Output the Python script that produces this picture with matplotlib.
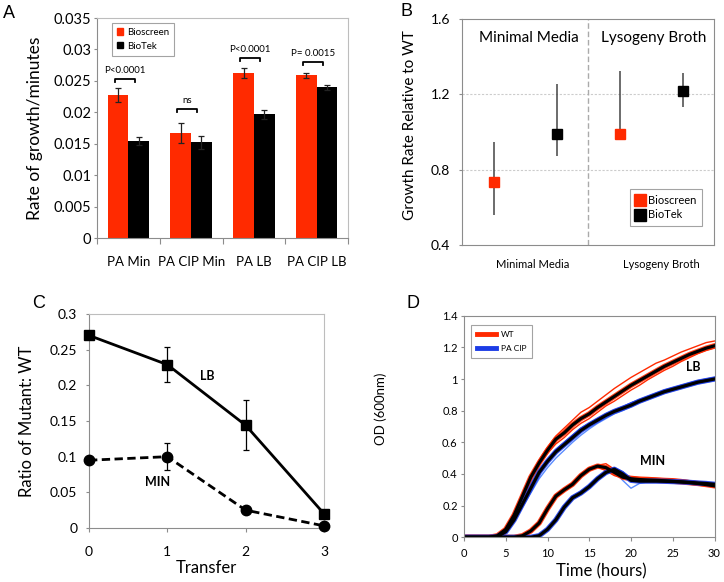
import matplotlib
matplotlib.use('Agg')
import matplotlib.pyplot as plt
from matplotlib.patches import Patch
from matplotlib.lines import Line2D
from matplotlib.ticker import FuncFormatter

plt.rcParams['font.family'] = ['Lato', 'DejaVu Sans']

RED = '#ff2a00'
BLUE = '#1c3ce6'
LBLUE = '#5a8cff'
GREY = '#8c8c8c'
LGREY = '#bdbdbd'

# ---- panel A data
groups = ['PA Min', 'PA CIP Min', 'PA LB', 'PA CIP LB']
bioscreen = [0.0228, 0.0167, 0.0262, 0.0259]
bioscreen_err = [0.0011, 0.0016, 0.0008, 0.0004]
biotek = [0.0154, 0.0152, 0.0197, 0.0240]
biotek_err = [0.0006, 0.0011, 0.0007, 0.0004]
pvals = ['P<0.0001', 'ns', 'P<0.0001', 'P= 0.0015']
bracket_y = [0.0253, 0.0206, 0.0286, 0.0280]

# ---- panel B data
media = ['Minimal Media', 'Lysogeny Broth']
rel_bioscreen = [0.733, 0.987]
rel_bioscreen_lo = [0.558, 0.975]
rel_bioscreen_hi = [0.946, 1.322]
rel_biotek = [0.990, 1.219]
rel_biotek_lo = [0.870, 1.132]
rel_biotek_hi = [1.255, 1.313]

# ---- panel C data
transfer = [0, 1, 2, 3]
ratio_lb = [0.270, 0.229, 0.144, 0.020]
ratio_lb_err = [0.0, 0.025, 0.035, 0.0]
ratio_min = [0.095, 0.100, 0.025, 0.003]
ratio_min_err = [0.0, 0.019, 0.0, 0.0]

# ---- panel D data (OD600 read hourly)
hours = [0, 1, 2, 3, 4, 5, 6, 7, 8, 9, 10, 11, 12, 13, 14, 15, 16, 17, 18, 19, 20,
         21, 22, 23, 24, 25, 26, 27, 28, 29, 30]
lb_wt_mean = [0, 0, 0, 0, 0.01, 0.05, 0.14, 0.26, 0.38, 0.47, 0.55, 0.62, 0.66, 0.71, 0.75, 0.78,
              0.82, 0.855, 0.89, 0.925, 0.96, 0.99, 1.02, 1.05, 1.08, 1.105, 1.13, 1.155, 1.175, 1.195, 1.21]
lb_wt_hi = [0, 0, 0, 0, 0.012, 0.06, 0.15, 0.27, 0.39, 0.49, 0.57, 0.64, 0.69, 0.74, 0.79, 0.82,
            0.86, 0.90, 0.94, 0.975, 1.01, 1.04, 1.07, 1.10, 1.12, 1.145, 1.17, 1.19, 1.21, 1.23, 1.24]
lb_wt_lo = [0, 0, 0, 0, 0.008, 0.04, 0.13, 0.25, 0.37, 0.46, 0.53, 0.59, 0.63, 0.68, 0.72, 0.75,
            0.79, 0.83, 0.86, 0.895, 0.93, 0.96, 0.995, 1.025, 1.055, 1.08, 1.11, 1.135, 1.16, 1.18, 1.195]
lb_cip_mean = [0, 0, 0, 0, 0.005, 0.035, 0.11, 0.21, 0.31, 0.41, 0.48, 0.54, 0.585, 0.63, 0.675, 0.71,
               0.74, 0.77, 0.795, 0.815, 0.835, 0.86, 0.88, 0.90, 0.92, 0.935, 0.95, 0.965, 0.98, 0.99, 1.0]
lb_cip_hi = [0, 0, 0, 0, 0.006, 0.04, 0.12, 0.22, 0.32, 0.42, 0.49, 0.555, 0.60, 0.645, 0.69, 0.72,
             0.75, 0.78, 0.805, 0.825, 0.85, 0.87, 0.89, 0.91, 0.93, 0.945, 0.96, 0.975, 0.99, 1.0, 1.01]
lb_cip_lo = [0, 0, 0, 0, 0.004, 0.03, 0.10, 0.19, 0.28, 0.37, 0.44, 0.50, 0.55, 0.60, 0.645, 0.685,
             0.72, 0.75, 0.78, 0.80, 0.825, 0.85, 0.87, 0.89, 0.91, 0.925, 0.94, 0.955, 0.97, 0.98, 0.99]
min_wt_mean = [0, 0, 0, 0, 0, 0, 0, 0.01, 0.04, 0.09, 0.18, 0.26, 0.30, 0.335, 0.39, 0.43,
               0.45, 0.44, 0.41, 0.38, 0.37, 0.365, 0.362, 0.36, 0.357, 0.354, 0.35, 0.345, 0.34, 0.333, 0.325]
min_wt_hi = [0, 0, 0, 0, 0, 0, 0, 0.012, 0.045, 0.10, 0.19, 0.27, 0.31, 0.345, 0.40, 0.44,
             0.455, 0.465, 0.43, 0.39, 0.385, 0.38, 0.378, 0.375, 0.372, 0.37, 0.365, 0.358, 0.35, 0.342, 0.332]
min_wt_lo = [0, 0, 0, 0, 0, 0, 0, 0.008, 0.035, 0.08, 0.17, 0.25, 0.29, 0.325, 0.38, 0.42,
             0.445, 0.42, 0.39, 0.375, 0.365, 0.36, 0.355, 0.352, 0.35, 0.347, 0.342, 0.336, 0.33, 0.324, 0.318]
min_cip_mean = [0, 0, 0, 0, 0, 0, 0, 0, 0, 0.01, 0.05, 0.11, 0.19, 0.25, 0.28, 0.32,
                0.37, 0.41, 0.43, 0.40, 0.36, 0.355, 0.355, 0.355, 0.354, 0.352, 0.35, 0.347, 0.343, 0.34, 0.335]
min_cip_hi = [0, 0, 0, 0, 0, 0, 0, 0, 0, 0.012, 0.055, 0.12, 0.20, 0.26, 0.29, 0.33,
              0.38, 0.42, 0.44, 0.415, 0.37, 0.365, 0.362, 0.36, 0.358, 0.356, 0.354, 0.352, 0.35, 0.346, 0.342]
min_cip_lo = [0, 0, 0, 0, 0, 0, 0, 0, 0, 0.008, 0.045, 0.10, 0.18, 0.24, 0.27, 0.31,
              0.36, 0.40, 0.42, 0.36, 0.31, 0.34, 0.35, 0.35, 0.35, 0.348, 0.346, 0.343, 0.34, 0.336, 0.33]

fig = plt.figure(figsize=(7.24, 5.82), dpi=100)
W, H = 724, 582


def box(l, t, r, b):
    return [l / W, 1 - b / H, (r - l) / W, (b - t) / H]


def frame(ax, axis_col=GREY, box_col=LGREY):
    for s in ['left', 'bottom']:
        ax.spines[s].set_color(axis_col)
        ax.spines[s].set_linewidth(0.8)
    for s in ['top', 'right']:
        ax.spines[s].set_color(box_col)
        ax.spines[s].set_linewidth(0.8)


gfmt = FuncFormatter(lambda v, p: '%g' % round(v, 6))

# ================= A
axA = fig.add_axes(box(97, 18, 348, 238))
frame(axA)
x = range(len(groups))
bw = 0.33
axA.bar([i - bw / 2 for i in x], bioscreen, bw, color=RED, zorder=2)
axA.bar([i + bw / 2 for i in x], biotek, bw, color='black', zorder=2)
axA.errorbar([i - bw / 2 for i in x], bioscreen, yerr=bioscreen_err, fmt='none',
             ecolor='#222222', elinewidth=0.9, capsize=2, capthick=0.9, zorder=3)
axA.errorbar([i + bw / 2 for i in x], biotek, yerr=biotek_err, fmt='none',
             ecolor='#222222', elinewidth=0.9, capsize=2, capthick=0.9, zorder=3)
for i in x:
    x0, x1 = i - 0.22, i + 0.10
    yb = bracket_y[i]
    axA.plot([x0, x0, x1, x1], [yb - 0.0005, yb, yb, yb - 0.0005], color='black', lw=1.3)
    axA.text((x0 + x1) / 2, yb + 0.0006, pvals[i], ha='center', va='bottom', fontsize=7)
axA.set_xlim(-0.5, 3.5)
axA.set_ylim(0, 0.035)
axA.set_yticks([0, 0.005, 0.01, 0.015, 0.02, 0.025, 0.03, 0.035])
axA.yaxis.set_major_formatter(gfmt)
axA.set_xticks(list(x))
axA.set_xticklabels(groups, fontsize=9.5)
axA.set_xticks([-0.5, 0.5, 1.5, 2.5, 3.5], minor=True)
axA.tick_params(axis='x', which='major', length=0, pad=13)
axA.tick_params(axis='x', which='minor', length=4, color=GREY, width=0.8)
axA.tick_params(axis='y', length=2.5, color=GREY, width=0.8, pad=1.5, labelsize=10.5)
axA.set_ylabel('Rate of growth/minutes', fontsize=12.5)
axA.yaxis.set_label_coords(-0.215, 0.5)
legA = axA.legend(handles=[Patch(color=RED, label='Bioscreen'), Patch(color='black', label='BioTek')],
                  loc='upper left', bbox_to_anchor=(0.06, 0.977), borderaxespad=0, fontsize=7,
                  handlelength=0.6, handleheight=0.6, handletextpad=0.4, labelspacing=0.5,
                  fancybox=False, frameon=True, borderpad=0.5)
legA.get_frame().set_edgecolor(GREY)
legA.get_frame().set_linewidth(0.8)
fig.text(3 / W, 1 - 13 / H, 'A', fontsize=13, family='Liberation Sans', va='center')

# ================= B
axB = fig.add_axes(box(462, 19, 714, 245))
frame(axB, GREY, GREY)
xb = [0.25, 1.25]
xk = [0.75, 1.75]
axB.axhline(0.8, color='#cccccc', lw=0.8, ls=(0, (2, 1.5)), zorder=0)
axB.axhline(1.2, color='#cccccc', lw=0.8, ls=(0, (2, 1.5)), zorder=0)
axB.axvline(1.0, color='#aaaaaa', lw=1.0, ls=(0, (4, 2)), zorder=0)
axB.errorbar(xb, rel_bioscreen,
             yerr=[[m - l for m, l in zip(rel_bioscreen, rel_bioscreen_lo)],
                   [h - m for m, h in zip(rel_bioscreen, rel_bioscreen_hi)]],
             fmt='s', color=RED, ms=7.5, ecolor='#444444', elinewidth=1.1, capsize=0, zorder=3)
axB.errorbar(xk, rel_biotek,
             yerr=[[m - l for m, l in zip(rel_biotek, rel_biotek_lo)],
                   [h - m for m, h in zip(rel_biotek, rel_biotek_hi)]],
             fmt='s', color='black', ms=7.5, ecolor='#444444', elinewidth=1.1, capsize=0, zorder=3)
axB.set_xlim(0, 2)
axB.set_ylim(0.4, 1.6)
axB.set_yticks([0.4, 0.8, 1.2, 1.6])
axB.set_xticks([])
axB.tick_params(axis='y', length=2.5, color=GREY, width=0.8, pad=6, labelsize=10)
axB.text(0.53, 1.50, media[0], ha='center', va='center', fontsize=11)
axB.text(1.52, 1.50, media[1], ha='center', va='center', fontsize=11)
axB.text(0.563, -0.088, media[0], transform=axB.get_xaxis_transform(), ha='center', va='center', fontsize=8)
axB.text(1.58, -0.088, media[1], transform=axB.get_xaxis_transform(), ha='center', va='center', fontsize=8)
axB.set_ylabel('Growth Rate Relative to WT', fontsize=11)
axB.yaxis.set_label_coords(-0.179, 0.53)
legB = axB.legend(handles=[Line2D([], [], marker='s', ls='none', color=RED, ms=8, label='Bioscreen'),
                           Line2D([], [], marker='s', ls='none', color='black', ms=8, label='BioTek')],
                  loc='upper left', bbox_to_anchor=(0.667, 0.248), borderaxespad=0, fontsize=8,
                  handlelength=0.8, handletextpad=0.3, labelspacing=0.35, fancybox=False,
                  borderpad=0.5)
legB.get_frame().set_edgecolor(GREY)
legB.get_frame().set_linewidth(0.8)
fig.text(401 / W, 1 - 12 / H, 'B', fontsize=13, family='Liberation Sans', va='center')

# ================= C
axC = fig.add_axes(box(89, 314, 324, 528))
frame(axC)
axC.errorbar(transfer, ratio_lb, yerr=ratio_lb_err, color='black', lw=2, marker='s', ms=7.5,
             elinewidth=0.9, capsize=2.5, capthick=0.9, clip_on=False, zorder=3)
axC.errorbar(transfer, ratio_min, yerr=ratio_min_err, color='black', lw=2, ls=(0, (3, 1.6)),
             marker='o', ms=7.5, elinewidth=0.9, capsize=2.5, capthick=0.9, clip_on=False, zorder=3)
axC.text(1.51, 0.213, 'LB', ha='center', va='center', fontsize=9, fontweight='bold')
axC.text(0.87, 0.064, 'MIN', ha='center', va='center', fontsize=9, fontweight='bold')
axC.set_xlim(0, 3)
axC.set_ylim(0, 0.3)
axC.set_xticks(transfer)
axC.set_yticks([0, 0.05, 0.1, 0.15, 0.2, 0.25, 0.3])
axC.yaxis.set_major_formatter(gfmt)
axC.tick_params(axis='y', length=2.5, color=GREY, width=0.8, pad=6, labelsize=10)
axC.tick_params(axis='x', length=3, color=GREY, width=0.8, pad=10, labelsize=10)
axC.set_ylabel('Ratio of Mutant: WT', fontsize=12)
axC.yaxis.set_label_coords(-0.23, 0.5)
axC.set_xlabel('Transfer', fontsize=12)
axC.xaxis.set_label_coords(0.5, -0.187)
axC.xaxis.label.set_va('center')
fig.text(32 / W, 1 - 304 / H, 'C', fontsize=13, family='Liberation Sans', va='center')

# ================= D
axD = fig.add_axes(box(464, 315.7, 714.5, 537.3))
frame(axD, GREY, GREY)
for lo, hi in [(lb_wt_lo, lb_wt_hi), (min_wt_lo, min_wt_hi)]:
    axD.plot(hours, hi, color=RED, lw=1.0)
    axD.plot(hours, lo, color=RED, lw=1.0)
for lo, hi in [(lb_cip_lo, lb_cip_hi), (min_cip_lo, min_cip_hi)]:
    axD.plot(hours, hi, color=BLUE, lw=1.0)
    axD.plot(hours, lo, color=LBLUE, lw=1.0)
for mean, col in [(lb_wt_mean, RED), (lb_cip_mean, BLUE), (min_wt_mean, RED), (min_cip_mean, BLUE)]:
    axD.plot(hours, mean, color=col, lw=3.8, alpha=0.9)
for mean in [lb_wt_mean, lb_cip_mean, min_wt_mean, min_cip_mean]:
    axD.plot(hours, mean, color='black', lw=2.3)
axD.text(27.4, 1.075, 'LB', ha='center', va='center', fontsize=9, fontweight='bold')
axD.text(22.6, 0.483, 'MIN', ha='center', va='center', fontsize=9, fontweight='bold')
axD.set_xlim(0, 30)
axD.set_ylim(0, 1.4)
axD.set_xticks([0, 5, 10, 15, 20, 25, 30])
axD.set_yticks([0, 0.2, 0.4, 0.6, 0.8, 1.0, 1.2, 1.4])
axD.yaxis.set_major_formatter(gfmt)
axD.tick_params(axis='y', length=2.5, color=GREY, width=0.8, pad=2, labelsize=8)
axD.tick_params(axis='x', length=3, color=GREY, width=0.8, pad=5, labelsize=8)
axD.set_ylabel('OD (600nm)', fontsize=9.5)
axD.yaxis.set_label_coords(-0.307, 0.58)
axD.set_xlabel('Time (hours)', fontsize=12)
axD.xaxis.set_label_coords(0.55, -0.155)
axD.xaxis.label.set_va('center')
legD = axD.legend(handles=[Line2D([], [], color=RED, lw=3.5, label='WT'),
                           Line2D([], [], color=BLUE, lw=3.5, label='PA CIP')],
                  loc='upper left', bbox_to_anchor=(0.028, 0.958), borderaxespad=0, fontsize=6,
                  handlelength=2.3, handletextpad=0.6, labelspacing=0.9, fancybox=False,
                  borderpad=0.7)
legD.get_frame().set_edgecolor(GREY)
legD.get_frame().set_linewidth(0.8)
fig.text(407 / W, 1 - 304 / H, 'D', fontsize=13, family='Liberation Sans', va='center')

fig.savefig('out.png', dpi=100)
